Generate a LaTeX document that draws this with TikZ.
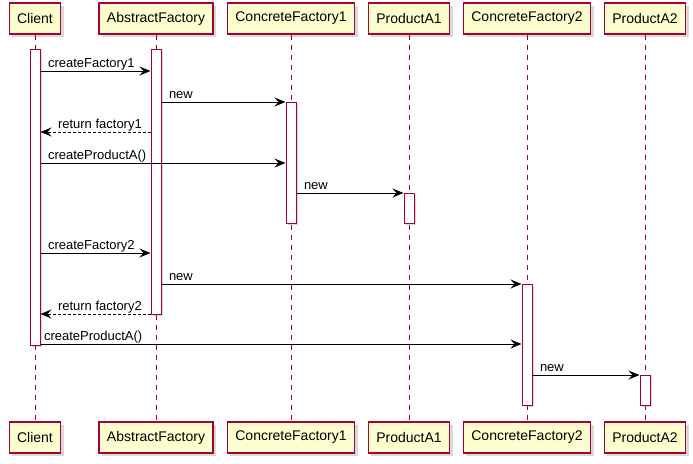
\documentclass[tikz,border=0pt]{standalone}
\usepackage{fontspec}
\setmainfont{Liberation Sans}
\usepackage{tikz}
\usetikzlibrary{positioning,arrows.meta,shadows}
\definecolor{umlred}{HTML}{A80036}
\definecolor{umlfill}{HTML}{FEFECE}

\begin{document}
\begin{tikzpicture}[x=1pt, y=-1pt,
  part/.style={draw=umlred, fill=umlfill, line width=1.2pt, minimum height=31pt, inner xsep=8pt,
    font=\fontsize{14}{16}\selectfont, drop shadow={shadow xshift=3pt, shadow yshift=-3pt, opacity=.3}},
  act/.style={draw=umlred, fill=white, line width=1pt, minimum width=10pt, inner sep=0pt,
    drop shadow={shadow xshift=2pt, shadow yshift=-2pt, opacity=.3}},
  life/.style={umlred, line width=0.8pt, dash pattern=on 5pt off 5pt},
  msg/.style={-{Stealth[length=11pt,width=9pt,inset=4pt]}, line width=1pt},
  ret/.style={msg, dash pattern=on 3pt off 2pt},
  lbl/.style={anchor=base west, font=\fontsize{13}{15}\selectfont, inner sep=0pt, yshift=3.5pt}]
\useasboundingbox (0,0) rectangle (693,463);

% Participants
\foreach \n/\x/\t in {client/35/Client, abs/156/AbstractFactory, cf1/291/ConcreteFactory1,
    pa1/409/ProductA1, cf2/527/ConcreteFactory2, pa2/645/ProductA2} {
  \node[part] (\n) at (\x,18.5) {\t};
  \node[part] (\n-b) at (\x,437.5) {\t};
}

% Lifelines
\foreach \n in {client,abs,cf1,pa1,cf2,pa2}
    \draw[life] (\n) -- (\n-b);

% Activations
\node[act, minimum height=296pt] (aClient) at (35,197) {};
\node[act, minimum height=265pt] (aAbs) at (156,181.5) {};
\node[act, minimum height=121pt] (aCf1) at (291,162.5) {};
\node[act, minimum height=30pt] (aPa1) at (409,208) {};
\node[act, minimum height=121pt] (aCf2) at (527,344.5) {};
\node[act, minimum height=30pt] (aPa2) at (645,390) {};

% Message rows
\foreach \i/\y in {1/71, 2/102, 3/132, 4/163, 5/193, 6/253, 7/284, 8/314, 9/344, 10/375}
    \coordinate (m\i) at (0,\y);

% Messages
\draw[msg] (aClient.east |- m1) -- (aAbs.west |- m1) node[lbl, pos=0, xshift=7pt] (t1) {createFactory1};
\draw[msg] (aAbs.east |- m2) -- (aCf1.west |- m2) node[lbl, pos=0, xshift=7pt] (t2) {new};
\draw[ret] (aAbs.west |- m3) -- (aClient.east |- m3) node[lbl, pos=1, xshift=17pt] (t3) {return factory1};
\draw[msg] (aClient.east |- m4) -- (aCf1.west |- m4) node[lbl, pos=0, xshift=7pt] (t4) {createProductA()};
\draw[msg] (aCf1.east |- m5) -- (aPa1.west |- m5) node[lbl, pos=0, xshift=7pt] (t5) {new};
\draw[msg] (aClient.east |- m6) -- (aAbs.west |- m6) node[lbl, pos=0, xshift=7pt] (t6) {createFactory2};
\draw[msg] (aAbs.east |- m7) -- (aCf2.west |- m7) node[lbl, pos=0, xshift=7pt] (t7) {new};
\draw[ret] (aAbs.west |- m8) -- (aClient.east |- m8) node[lbl, pos=1, xshift=17pt] (t8) {return factory2};
\draw[msg] (aClient.east |- m9) -- (aCf2.west |- m9) node[lbl, pos=0, xshift=3pt] (t9) {createProductA()};
\draw[msg] (aCf2.east |- m10) -- (aPa2.west |- m10) node[lbl, pos=0, xshift=7pt] (t10) {new};
\end{tikzpicture}
\end{document}
